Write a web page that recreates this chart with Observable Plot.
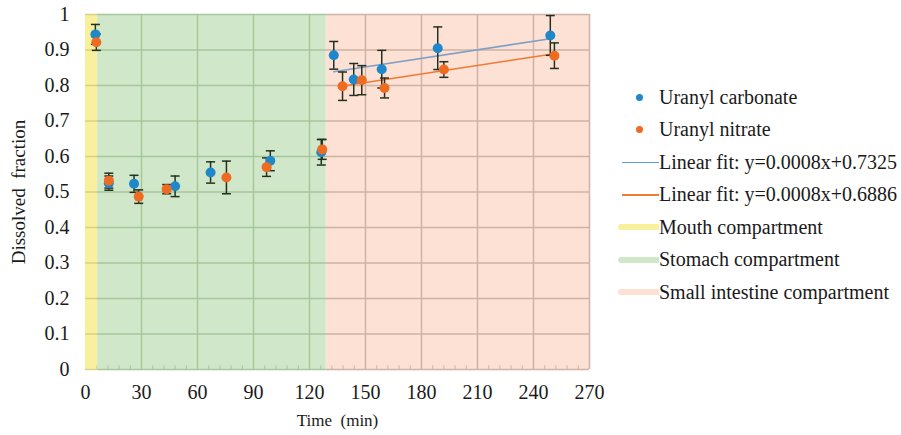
<!DOCTYPE html>
<html>
<head>
<meta charset="utf-8">
<script src="https://cdn.jsdelivr.net/npm/d3@7"></script>
<script src="https://cdn.jsdelivr.net/npm/@observablehq/plot@0.6"></script>
<style>
  html, body { margin: 0; padding: 0; background: #fff; font-family: "Liberation Serif", "Times New Roman", "DejaVu Serif", serif; }
  #wrap { position: relative; width: 901px; height: 435px; overflow: hidden; }
  #legend { position: absolute; left: 616px; top: 81px; font-family: "Liberation Serif", "Times New Roman", "DejaVu Serif", serif; font-size: 20px; color: #1a1a1a; }
  .row { position: relative; height: 32.5px; display: flex; align-items: center; white-space: nowrap; }
  .sym { width: 43px; height: 100%; position: relative; flex: none; }
  .sym .dot { position: absolute; left: 20px; top: 50%; width: 7px; height: 7px; margin-top: -3.5px; border-radius: 50%; }
  .sym .line { position: absolute; left: 6px; right: 0; top: 50%; height: 1.5px; margin-top: -0.75px; }
  .sym .patch { position: absolute; left: 2px; right: 0; top: 50%; height: 6px; margin-top: -3px; border-radius: 3px 0 0 3px; }
</style>
</head>
<body>
<div id="wrap"><div id="legend"></div></div>
<script>
// ---- data ----
const carbonateTime = [5.3, 12.5, 26, 48, 67, 99, 126.3, 133, 143.7, 158.7, 188.7, 249];
const carbonateValue = [0.944, 0.525, 0.523, 0.516, 0.555, 0.588, 0.612, 0.885, 0.817, 0.846, 0.905, 0.941];
const carbonateErr = [0.028, 0.020, 0.024, 0.029, 0.030, 0.028, 0.036, 0.039, 0.045, 0.053, 0.060, 0.056];

const nitrateTime = [5.8, 12.5, 28.5, 43.5, 75.5, 97, 126.8, 137.7, 148, 160.2, 192, 251.2];
const nitrateValue = [0.922, 0.532, 0.487, 0.508, 0.541, 0.570, 0.620, 0.798, 0.815, 0.793, 0.845, 0.884];
const nitrateErr = [0.023, 0.021, 0.019, 0.013, 0.046, 0.026, 0.028, 0.040, 0.041, 0.028, 0.022, 0.036];

const fitNames = ["Linear fit: y=0.0008x+0.7325", "Linear fit: y=0.0008x+0.6886"];
const fitSlope = [0.0008, 0.0008];
const fitIntercept = [0.7325, 0.6886];
const fitRange = [[133, 249], [137.7, 251.2]];

const compartmentNames = ["Mouth compartment", "Stomach compartment", "Small intestine compartment"];
const compartmentStart = [0, 6.5, 129];
const compartmentEnd = [6.5, 129, 270];

const seriesNames = ["Uranyl carbonate", "Uranyl nitrate"];
const xTicks = [0, 30, 60, 90, 120, 150, 180, 210, 240, 270];
const yTicks = [0, 0.1, 0.2, 0.3, 0.4, 0.5, 0.6, 0.7, 0.8, 0.9, 1];

// ---- styling ----
const FONT = "Liberation Serif, Times New Roman, DejaVu Serif, serif";
const dotColors = ["#1f88ca", "#ee6c22"];
const fitColors = ["#7f9fc6", "#ef7a35"];
const legendFitColors = ["#5b9bd5", "#ed7d31"];
const compartmentColors = ["#f8f09c", "#d1e7c9", "#fde1d4"];
const gridColors = ["#d9d084", "#a6c69b", "#cfb2a5"];

const points = [];
carbonateTime.forEach((t, i) => points.push({s: 0, x: t, y: carbonateValue[i], e: carbonateErr[i]}));
nitrateTime.forEach((t, i) => points.push({s: 1, x: t, y: nitrateValue[i], e: nitrateErr[i]}));
const comps = compartmentNames.map((n, i) => ({i, n, x1: compartmentStart[i], x2: compartmentEnd[i], c: compartmentColors[i]}));
const fits = [];
fitRange.forEach((r, i) => r.forEach(x => fits.push({s: i, x, y: fitSlope[i] * x + fitIntercept[i]})));
const caps = points.flatMap(p => [{s: p.s, x: p.x, y: p.y - p.e}, {s: p.s, x: p.x, y: p.y + p.e}]);

// grid segments, coloured by the compartment they cross
const hGrid = comps.flatMap(c => yTicks.filter(v => v > 0).map(y => ({y, x1: c.x1, x2: c.x2, g: gridColors[c.i]})));
const vGrid = xTicks.filter(v => v > 0).map(x => ({x, g: gridColors[comps.find(c => x > c.x1 && x <= c.x2).i]}));
const bottomLine = comps.map(c => ({x1: c.x1, x2: c.x2, g: gridColors[c.i]}));
const minorTicks = d3.range(0, 271, 6).filter(v => v % 30 !== 0)
  .map(x => ({x, g: gridColors[comps.find(c => x > c.x1 && x <= c.x2).i]}));

const capSymbol = {draw(ctx) { ctx.moveTo(-4.5, 0); ctx.lineTo(4.5, 0); }};
const tickSymbol = {draw(ctx) { ctx.moveTo(0, 0); ctx.lineTo(0, -4); }};

const chart = Plot.plot({
  width: 901, height: 435,
  marginLeft: 85, marginRight: 312, marginTop: 14, marginBottom: 66,
  style: {fontFamily: FONT, fontSize: "20px", color: "#1a1a1a", background: "transparent", overflow: "visible"},
  x: {domain: [0, 270]},
  y: {domain: [0, 1]},
  marks: [
    Plot.rect(comps, {x1: "x1", x2: "x2", y1: 0, y2: 1, fill: "c"}),
    Plot.ruleY(hGrid, {y: "y", x1: "x1", x2: "x2", stroke: "g", strokeWidth: 1.5}),
    Plot.ruleX(vGrid, {x: "x", y1: 0, y2: 1, stroke: "g", strokeWidth: 1.5}),
    Plot.ruleY(bottomLine, {y: 0, x1: "x1", x2: "x2", stroke: "g", strokeWidth: 1.3}),
    Plot.dot(minorTicks, {x: "x", y: 0, symbol: tickSymbol, stroke: "g", strokeWidth: 1, r: 4}),
    Plot.axisX({ticks: xTicks, tickSize: 0, tickPadding: 15, tickFormat: d => String(d), label: null, fontFamily: FONT}),
    Plot.axisY({ticks: yTicks, tickSize: 0, tickPadding: 16, tickFormat: d => String(+d.toFixed(1)), label: null, fontFamily: FONT}),
    Plot.text(["Time  (min)"], {frameAnchor: "bottom", dy: 56, fontSize: 17, fontFamily: FONT, text: d => d}),
    Plot.text(["Dissolved  fraction"], {frameAnchor: "left", textAnchor: "middle", dx: -67, rotate: -90, fontSize: 19, fontFamily: FONT, text: d => d}),
    Plot.line(fits, {x: "x", y: "y", z: "s", stroke: d => fitColors[d.s], strokeWidth: 1.6}),
    Plot.ruleX(points, {x: "x", y1: d => d.y - d.e, y2: d => d.y + d.e, stroke: "#24301f", strokeWidth: 1.5}),
    Plot.dot(caps, {x: "x", y: "y", symbol: capSymbol, stroke: "#24301f", strokeWidth: 1.5, r: 4}),
    Plot.dot(points, {x: "x", y: "y", r: 5, fill: d => dotColors[d.s], stroke: "none"})
  ]
});
document.getElementById("wrap").prepend(chart);

// ---- legend ----
const legend = d3.select("#legend");
seriesNames.forEach((n, i) => {
  const row = legend.append("div").attr("class", "row");
  row.append("div").attr("class", "sym").append("div").attr("class", "dot").style("background", dotColors[i]);
  row.append("span").text(n);
});
fitNames.forEach((n, i) => {
  const row = legend.append("div").attr("class", "row");
  row.append("div").attr("class", "sym").append("div").attr("class", "line").style("background", legendFitColors[i]);
  row.append("span").text(n);
});
compartmentNames.forEach((n, i) => {
  const row = legend.append("div").attr("class", "row");
  row.append("div").attr("class", "sym").append("div").attr("class", "patch").style("background", compartmentColors[i]);
  row.append("span").text(n);
});
</script>
</body>
</html>
